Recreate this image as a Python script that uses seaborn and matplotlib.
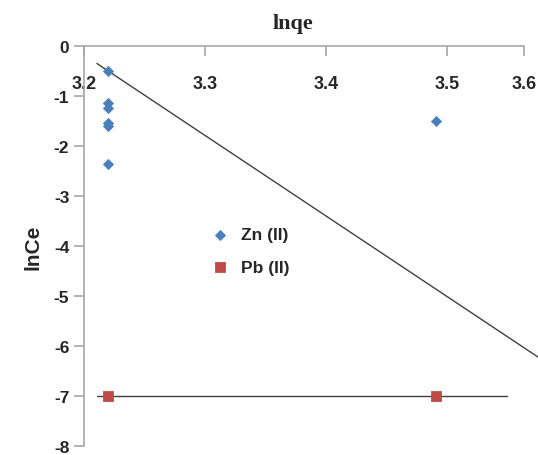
import matplotlib
matplotlib.use("Agg")
import matplotlib.pyplot as plt
import seaborn as sns

# data
zn_x = [3.22, 3.22, 3.22, 3.22, 3.22, 3.22, 3.491]
zn_y = [-0.5, -1.15, -1.25, -1.54, -1.61, -2.35, -1.51]
pb_x = [3.22, 3.491]
pb_y = [-7.0, -7.0]

# trendlines as drawn in the source
zn_fit_x = [3.2107, 3.5814]
zn_fit_y = [-0.35, -6.32]
pb_fit_x = [3.2107, 3.5496]
pb_fit_y = [-7.0, -7.0]

xticks = [3.2, 3.3, 3.4, 3.5, 3.5636]
xtick_labels = ["3.2", "3.3", "3.4", "3.5", "3.6"]
yticks = [0, -1, -2, -3, -4, -5, -6, -7, -8]

sns.set_style("white")
plt.rcParams["font.family"] = ["Liberation Sans", "DejaVu Sans"]
plt.rcParams["axes.unicode_minus"] = False

fig = plt.figure(figsize=(5.38, 4.56), dpi=100)
ax = fig.add_axes([0.156, 0.0195, 0.818, 0.8775])

sns.lineplot(x=zn_fit_x, y=zn_fit_y, ax=ax, color="#404040", lw=1, clip_on=False)
sns.lineplot(x=pb_fit_x, y=pb_fit_y, ax=ax, color="#404040", lw=1)

sns.scatterplot(x=zn_x, y=zn_y, ax=ax, marker="D", s=28, color="#4a7ebb",
                edgecolor="#4a7ebb", label="Zn (II)", zorder=3)
sns.scatterplot(x=pb_x, y=pb_y, ax=ax, marker="s", s=52, color="#be4b48",
                edgecolor="#be4b48", label="Pb (II)", zorder=3, clip_on=False)

ax.set_xlim(3.2, 3.5636)
ax.set_ylim(-8, 0)
ax.spines["top"].set_visible(False)
ax.spines["right"].set_visible(False)
ax.spines["bottom"].set_position(("data", 0))
for s in ["bottom", "left"]:
    ax.spines[s].set_color("#a6a6a6")
    ax.spines[s].set_linewidth(1.2)

ax.set_xticks(xticks)
ax.set_xticklabels(xtick_labels)
ax.set_yticks(yticks)
ax.tick_params(axis="both", direction="out", length=7, width=1.2, color="#a6a6a6",
               labelsize=12.5, bottom=True, left=True)
ax.tick_params(axis="x", pad=14, labelsize=13)
for lbl in ax.get_xticklabels() + ax.get_yticklabels():
    lbl.set_fontweight("bold")

ax.set_xlabel("")
ax.set_ylabel("lnCe", fontsize=15, fontweight="bold", labelpad=8)

fig.text(0.545, 0.947, "lnqe", ha="center", va="center", fontsize=16,
         fontweight="bold", family=["Liberation Serif", "DejaVu Serif"])

leg = ax.legend(loc="upper left", bbox_to_anchor=(0.255, 0.565), frameon=False,
                prop={"weight": "bold", "size": 12.5}, handletextpad=0.2,
                labelspacing=1.0, borderaxespad=0)

fig.savefig("out.png", dpi=100)
